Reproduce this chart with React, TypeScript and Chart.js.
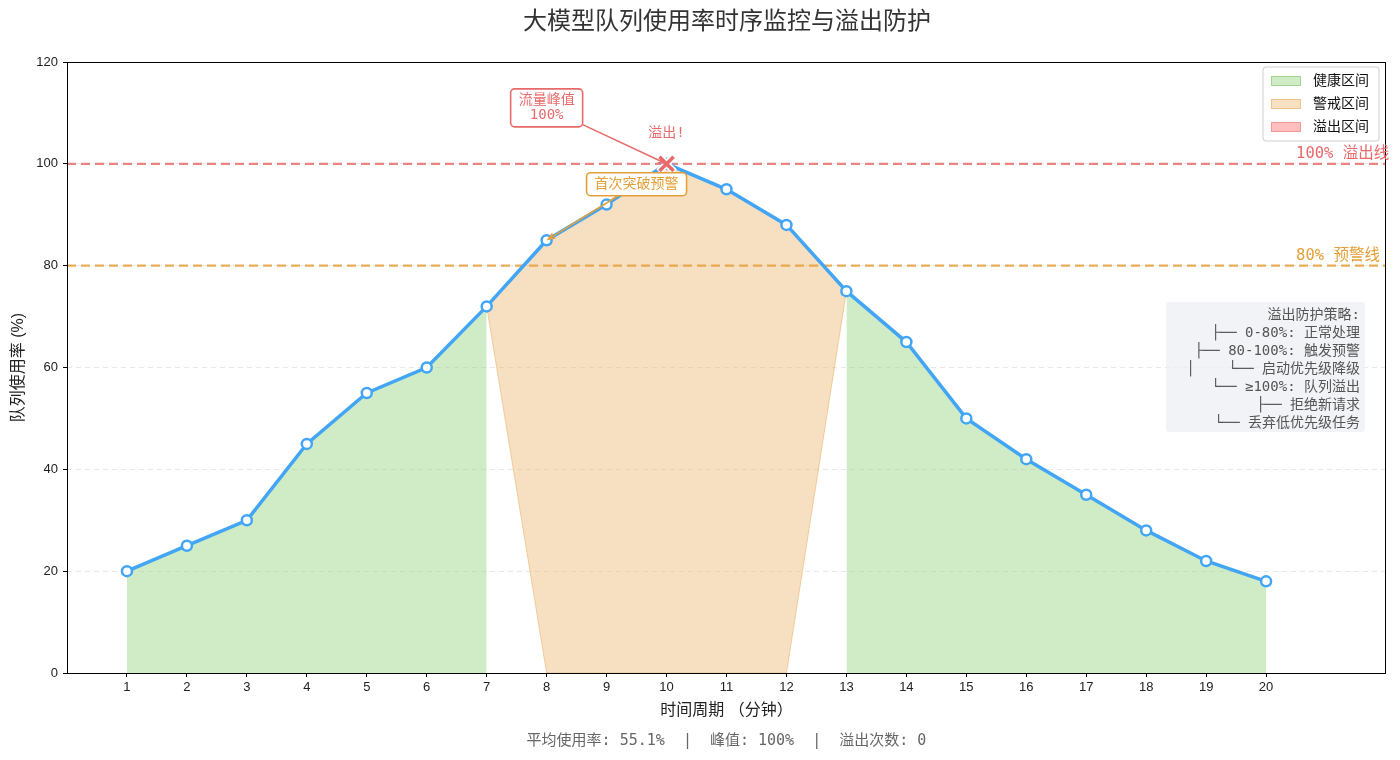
import React, { useEffect, useRef } from "react";
import { Chart, registerables } from "chart.js";

Chart.register(...registerables);

// ---- data ----
const periods = [1, 2, 3, 4, 5, 6, 7, 8, 9, 10, 11, 12, 13, 14, 15, 16, 17, 18, 19, 20];
const usage = [20, 25, 30, 45, 55, 60, 72, 85, 92, 100, 95, 88, 75, 65, 50, 42, 35, 28, 22, 18];
const yTickValues = [0, 20, 40, 60, 80, 100, 120];
const WARN_LEVEL = 80;
const OVERFLOW_LEVEL = 100;
const zoneNames = ["健康区间", "警戒区间", "溢出区间"];
const strategyLines = [
  "溢出防护策略:",
  "├── 0-80%: 正常处理",
  "├── 80-100%: 触发预警",
  "│    └── 启动优先级降级",
  "└── ≥100%: 队列溢出",
  "    ├── 拒绝新请求",
  "    └── 丢弃低优先级任务",
];

// ---- styling ----
const FONT = '"Liberation Sans", "DejaVu Sans", "Noto Sans CJK SC", sans-serif';
const MONO = '"DejaVu Sans Mono", "Noto Sans CJK SC", monospace';
const BLUE = "#42A5F5";
const RED = "#E86A6A";
const RED_LINE = "rgba(232, 110, 110, 0.85)";
const ORANGE = "#E3A038";
const ORANGE_LINE = "rgba(229, 160, 60, 0.85)";
const GREEN_FILL = "rgba(137, 207, 112, 0.4)";
const ORANGE_FILL = "rgba(236, 178, 100, 0.4)";
const RED_FILL = "rgba(255, 128, 128, 0.5)";
const zoneColors = [GREEN_FILL, ORANGE_FILL, RED_FILL];
const zoneEdges = ["rgba(120, 190, 100, 0.5)", "rgba(230, 170, 90, 0.5)", "rgba(240, 110, 110, 0.5)"];

// contiguous index runs where the predicate holds
function runs(pred: (v: number) => boolean): [number, number][] {
  const out: [number, number][] = [];
  let start = -1;
  usage.forEach((v, i) => {
    if (pred(v)) {
      if (start < 0) start = i;
    } else if (start >= 0) {
      out.push([start, i - 1]);
      start = -1;
    }
  });
  if (start >= 0) out.push([start, usage.length - 1]);
  return out;
}

const healthyRuns = runs((v) => v < WARN_LEVEL);
const warningRuns = runs((v) => v >= WARN_LEVEL && v <= OVERFLOW_LEVEL);
const overflowRuns = runs((v) => v > OVERFLOW_LEVEL);

const avgUsage = usage.reduce((a, b) => a + b, 0) / usage.length;
const peakValue = Math.max(...usage);
const peakIndex = usage.indexOf(peakValue);
const overflowCount = usage.filter((v) => v > OVERFLOW_LEVEL).length;
const firstWarnIndex = usage.findIndex((v) => v >= WARN_LEVEL);

function drawArrow(
  ctx: CanvasRenderingContext2D,
  cx: number,
  cy: number,
  hw: number,
  hh: number,
  tx: number,
  ty: number,
  color: string
) {
  const dx = tx - cx;
  const dy = ty - cy;
  const t = Math.min(hw / Math.abs(dx || 1e-6), hh / Math.abs(dy || 1e-6));
  const sx = cx + dx * t;
  const sy = cy + dy * t;
  const len = Math.hypot(tx - sx, ty - sy);
  const ux = (tx - sx) / len;
  const uy = (ty - sy) / len;
  const ex = tx - ux * 2;
  const ey = ty - uy * 2;
  ctx.save();
  ctx.strokeStyle = color;
  ctx.lineWidth = 1.6;
  ctx.beginPath();
  ctx.moveTo(sx, sy);
  ctx.lineTo(ex, ey);
  const head = 7;
  const ang = Math.atan2(uy, ux);
  ctx.moveTo(ex - head * Math.cos(ang - 0.4), ey - head * Math.sin(ang - 0.4));
  ctx.lineTo(ex, ey);
  ctx.lineTo(ex - head * Math.cos(ang + 0.4), ey - head * Math.sin(ang + 0.4));
  ctx.stroke();
  ctx.restore();
}

function drawLabelBox(
  ctx: CanvasRenderingContext2D,
  cx: number,
  cy: number,
  lines: string[],
  size: number,
  color: string
) {
  ctx.save();
  ctx.font = `${size}px ${MONO}`;
  const lh = size + 1;
  const w = Math.max(...lines.map((l) => ctx.measureText(l).width)) + 16;
  const h = lines.length * lh + 8;
  ctx.beginPath();
  ctx.roundRect(cx - w / 2, cy - h / 2, w, h, 4);
  ctx.fillStyle = "#ffffff";
  ctx.fill();
  ctx.strokeStyle = color;
  ctx.lineWidth = 1.6;
  ctx.stroke();
  ctx.fillStyle = color;
  ctx.textAlign = "center";
  ctx.textBaseline = "middle";
  lines.forEach((l, i) => {
    ctx.fillText(l, cx, cy - ((lines.length - 1) * lh) / 2 + i * lh);
  });
  ctx.restore();
  return { hw: w / 2, hh: h / 2 };
}

// zone polygons: the points of each run, joined to the neighbouring points, closed along y = 0
function zonePolygon(chart: any, run: [number, number]) {
  const xs = chart.scales.x;
  const ys = chart.scales.y;
  const [s, e] = run;
  const top: [number, number][] = [];
  if (s > 0) top.push([periods[s - 1], usage[s - 1]]);
  for (let i = s; i <= e; i++) top.push([periods[i], usage[i]]);
  if (e < usage.length - 1) top.push([periods[e + 1], usage[e + 1]]);
  const bottom: [number, number][] = [];
  for (let i = e; i >= s; i--) bottom.push([periods[i], 0]);
  return [...top, ...bottom].map(([x, y]) => [xs.getPixelForValue(x), ys.getPixelForValue(y)]);
}

const overlayPlugin = {
  id: "queueOverlay",
  beforeDatasetsDraw(chart: any) {
    const ctx: CanvasRenderingContext2D = chart.ctx;
    const a = chart.chartArea;
    ctx.save();
    ctx.beginPath();
    ctx.rect(a.left, a.top, a.right - a.left, a.bottom - a.top);
    ctx.clip();
    const fills: [[number, number][], string, string][] = [
      [warningRuns, ORANGE_FILL, zoneEdges[1]],
      [overflowRuns, RED_FILL, zoneEdges[2]],
    ];
    fills.forEach(([rs, fill, edge]) => {
      rs.forEach((r) => {
        const pts = zonePolygon(chart, r);
        ctx.beginPath();
        pts.forEach(([x, y], i) => (i === 0 ? ctx.moveTo(x, y) : ctx.lineTo(x, y)));
        ctx.closePath();
        ctx.fillStyle = fill;
        ctx.fill();
        ctx.strokeStyle = edge;
        ctx.lineWidth = 1;
        ctx.stroke();
      });
    });
    ctx.restore();
  },
  afterDatasetsDraw(chart: any) {
    const ctx: CanvasRenderingContext2D = chart.ctx;
    const xs = chart.scales.x;
    const ys = chart.scales.y;
    const a = chart.chartArea;

    // frame
    ctx.save();
    ctx.strokeStyle = "#000";
    ctx.lineWidth = 1;
    ctx.strokeRect(a.left + 0.5, a.top + 0.5, a.right - a.left - 1, a.bottom - a.top);
    ctx.restore();

    // threshold labels
    const labelX = xs.getPixelForValue(periods[periods.length - 1] + 0.5);
    ctx.save();
    ctx.font = `15.5px ${MONO}`;
    ctx.textAlign = "left";
    ctx.textBaseline = "middle";
    ctx.fillStyle = RED;
    ctx.fillText(`${OVERFLOW_LEVEL}% 溢出线`, labelX, ys.getPixelForValue(OVERFLOW_LEVEL + 2));
    ctx.fillStyle = ORANGE;
    ctx.fillText(`${WARN_LEVEL}% 预警线`, labelX, ys.getPixelForValue(WARN_LEVEL + 2));

    // overflow marker label
    ctx.font = `14px ${MONO}`;
    ctx.textAlign = "center";
    ctx.fillStyle = RED;
    ctx.fillText("溢出!", xs.getPixelForValue(periods[peakIndex]), ys.getPixelForValue(peakValue + 6));
    ctx.restore();

    // peak annotation
    const pcx = xs.getPixelForValue(periods[peakIndex] - 2);
    const pcy = ys.getPixelForValue(peakValue + 11);
    ctx.save();
    ctx.font = `14px ${MONO}`;
    const pw = ctx.measureText("流量峰值").width + 16;
    ctx.restore();
    drawArrow(ctx, pcx, pcy, pw / 2, 19, xs.getPixelForValue(periods[peakIndex]), ys.getPixelForValue(peakValue), RED);
    drawLabelBox(ctx, pcx, pcy, ["流量峰值", `${peakValue}%`], 14, RED);

    // first warning annotation
    const wcx = xs.getPixelForValue(periods[firstWarnIndex] + 1.5);
    const wcy = ys.getPixelForValue(usage[firstWarnIndex] + 11);
    ctx.save();
    ctx.font = `14px ${MONO}`;
    const ww = ctx.measureText("首次突破预警").width + 16;
    ctx.restore();
    drawArrow(ctx, wcx, wcy, ww / 2, 11.5, xs.getPixelForValue(periods[firstWarnIndex]), ys.getPixelForValue(usage[firstWarnIndex]), ORANGE);
    drawLabelBox(ctx, wcx, wcy, ["首次突破预警"], 14, ORANGE);
  },
  afterDraw(chart: any) {
    const ctx: CanvasRenderingContext2D = chart.ctx;
    const a = chart.chartArea;
    const W = chart.width;

    ctx.save();
    // title
    ctx.fillStyle = "#333";
    ctx.textAlign = "center";
    ctx.textBaseline = "middle";
    ctx.font = `24px ${FONT}`;
    ctx.fillText("大模型队列使用率时序监控与溢出防护", W / 2 + 27, 22);

    // axis titles
    ctx.fillStyle = "#222";
    ctx.font = `16px ${FONT}`;
    ctx.fillText("时间周期 （分钟）", (a.left + a.right) / 2, 711);
    ctx.save();
    ctx.translate(19, (a.top + a.bottom) / 2);
    ctx.rotate(-Math.PI / 2);
    ctx.fillText("队列使用率 (%)", 0, 0);
    ctx.restore();

    // summary line
    ctx.fillStyle = "#666";
    ctx.font = `15px ${MONO}`;
    ctx.fillText(
      `平均使用率: ${avgUsage.toFixed(1)}%  |  峰值: ${peakValue}%  |  溢出次数: ${overflowCount}`,
      (a.left + a.right) / 2,
      741
    );

    // legend
    const lx = a.right - 123;
    const ly = a.top + 5;
    ctx.beginPath();
    ctx.roundRect(lx, ly, 116, 74, 3);
    ctx.fillStyle = "rgba(255,255,255,0.9)";
    ctx.fill();
    ctx.strokeStyle = "#d0d0d0";
    ctx.lineWidth = 1;
    ctx.stroke();
    ctx.font = `14px ${FONT}`;
    ctx.textAlign = "left";
    zoneNames.forEach((name, i) => {
      const ry = ly + 14 + i * 23;
      ctx.fillStyle = zoneColors[i];
      ctx.fillRect(lx + 8, ry - 5, 30, 10);
      ctx.strokeStyle = zoneEdges[i];
      ctx.strokeRect(lx + 8.5, ry - 4.5, 29, 9);
      ctx.fillStyle = "#111";
      ctx.fillText(name, lx + 50, ry);
    });

    // strategy box
    const bx = 1166;
    const by = 302;
    ctx.fillStyle = "rgba(236, 239, 244, 0.75)";
    ctx.beginPath();
    ctx.roundRect(bx, by, 199, 130, 3);
    ctx.fill();
    ctx.fillStyle = "#555";
    ctx.font = `14px ${MONO}`;
    ctx.textAlign = "right";
    strategyLines.forEach((line, i) => {
      ctx.fillText(line, bx + 194, by + 13 + i * 18);
    });
    ctx.restore();
  },
};

export default function App() {
  const canvasRef = useRef<HTMLCanvasElement | null>(null);

  useEffect(() => {
    if (!canvasRef.current) return;
    const pts = (idx: number[]) => idx.map((i) => ({ x: periods[i], y: usage[i] }));
    const greenSets = healthyRuns.map(([s, e]) => ({
      type: "line" as const,
      data: pts(Array.from({ length: e - s + 1 }, (_, k) => s + k)),
      borderColor: zoneEdges[0],
      borderWidth: 1,
      backgroundColor: GREEN_FILL,
      fill: "origin",
      pointRadius: 0,
      order: 6,
    }));
    const overflowPts = pts(usage.map((v, i) => (v >= OVERFLOW_LEVEL ? i : -1)).filter((i) => i >= 0));
    const xMax = periods[periods.length - 1] + 2;
    const chart = new Chart(canvasRef.current, {
      type: "line",
      data: {
        datasets: [
          ...greenSets,
          {
            data: [
              { x: 0, y: OVERFLOW_LEVEL },
              { x: xMax, y: OVERFLOW_LEVEL },
            ],
            borderColor: RED_LINE,
            borderWidth: 2.2,
            borderDash: [9, 5],
            pointRadius: 0,
            fill: false,
            order: 4,
          },
          {
            data: [
              { x: 0, y: WARN_LEVEL },
              { x: xMax, y: WARN_LEVEL },
            ],
            borderColor: ORANGE_LINE,
            borderWidth: 2.2,
            borderDash: [9, 5],
            pointRadius: 0,
            fill: false,
            order: 4,
          },
          {
            data: pts(periods.map((_, i) => i)),
            borderColor: BLUE,
            borderWidth: 3.5,
            pointRadius: 5,
            pointBackgroundColor: "#ffffff",
            pointBorderColor: BLUE,
            pointBorderWidth: 2.5,
            fill: false,
            order: 2,
          },
          {
            data: overflowPts,
            showLine: false,
            pointStyle: "crossRot",
            pointRadius: 11,
            pointBorderColor: "#ffffff",
            pointBorderWidth: 7,
            order: 1,
          },
          {
            data: overflowPts,
            showLine: false,
            pointStyle: "crossRot",
            pointRadius: 10,
            pointBorderColor: RED,
            pointBorderWidth: 3.5,
            order: 0,
          },
        ],
      },
      options: {
        responsive: false,
        animation: false,
        layout: { autoPadding: false, padding: { top: 62, right: 14, left: 0, bottom: 0 } },
        plugins: {
          legend: { display: false },
          tooltip: { enabled: false },
        },
        scales: {
          x: {
            type: "linear",
            min: 0,
            max: xMax,
            afterBuildTicks: (scale: any) => {
              scale.ticks = periods.map((v) => ({ value: v }));
            },
            afterFit: (scale: any) => {
              scale.height = 87;
            },
            ticks: {
              color: "#222",
              font: { family: FONT, size: 13 },
              padding: 3,
              maxRotation: 0,
              autoSkip: false,
              callback: (v: any) => String(v),
            },
            grid: {
              drawOnChartArea: false,
              color: "#000",
              tickColor: "#000",
              tickLength: 4,
            },
            border: { display: false },
          },
          y: {
            type: "linear",
            min: yTickValues[0],
            max: yTickValues[yTickValues.length - 1],
            afterBuildTicks: (scale: any) => {
              scale.ticks = yTickValues.map((v) => ({ value: v }));
            },
            afterFit: (scale: any) => {
              scale.width = 67;
            },
            ticks: {
              color: "#222",
              font: { family: FONT, size: 13 },
              padding: 5,
              callback: (v: any) => String(v),
            },
            grid: {
              color: "rgba(0,0,0,0.09)",
              tickColor: "#000",
              tickLength: 4,
              lineWidth: 1,
            },
            border: { display: false, dash: [5, 4] },
          },
        },
      },
      plugins: [overlayPlugin],
    });
    return () => chart.destroy();
  }, []);

  return (
    <div style={{ position: "absolute", left: 0, top: 0, width: 1400, height: 760, background: "#fff" }}>
      <canvas ref={canvasRef} width={1400} height={760} style={{ display: "block" }} />
    </div>
  );
}
